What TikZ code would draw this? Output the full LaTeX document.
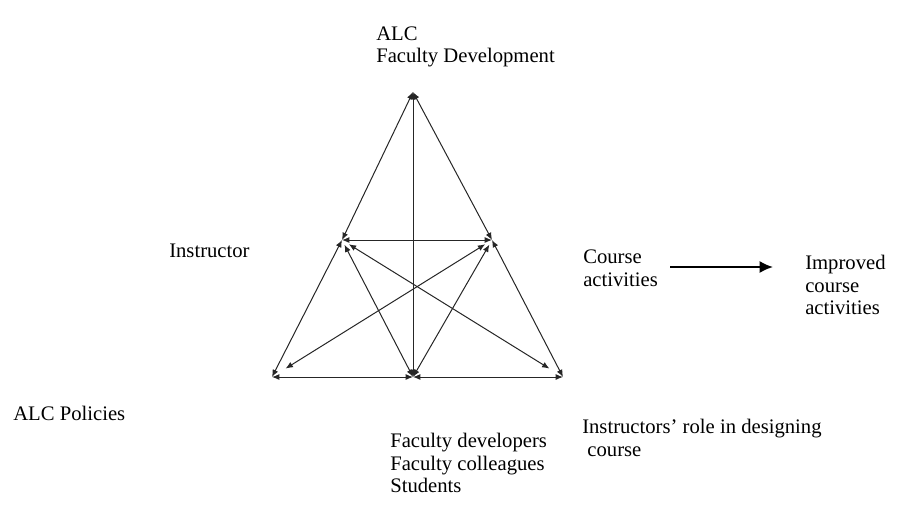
\documentclass[tikz,border=0pt]{standalone}
\usepackage{fontspec}
\setmainfont{Liberation Serif}
\usetikzlibrary{arrows,arrows.meta,calc,positioning}
\tikzstyle{lbl}=[anchor=west,align=left,inner sep=0pt,font=\fontsize{15.5}{16.9}\selectfont]
\tikzstyle{link}=[<->,line width=0.75pt,black!85]

\begin{document}
\begin{tikzpicture}[
      >={Latex[length=5.5pt,width=4.5pt]},
      x=0.75pt,y=-0.75pt
    ]
      \useasboundingbox (0,0) rectangle (898,508);

      % corners and mid points of the triangle
      \coordinate (top) at (413,92);
      \coordinate (ml)  at (342,240);
      \coordinate (mr)  at (492,240);
      \coordinate (bl)  at (272,377);
      \coordinate (bm)  at (413,377);
      \coordinate (br)  at (563,377);

      \node [lbl] (alc)    at (376,47)  {ALC\\Faculty Development};
      \node [lbl] (instr)  at (169,251) {Instructor};
      \node [lbl] (course) at (583,268) {Course\\activities};
      \node [lbl] (impr)   at (805,285) {Improved\\course\\activities};
      \node [lbl] (pol)    at (13,413)  {ALC Policies};
      \node [lbl] (comm)   at (390,463) {Faculty developers\\Faculty colleagues\\Students};
      \node [lbl] (role)   at (582,438) {Instructors’ role in designing\\\hspace{0.25em}course};

      \draw[link] (top) -- (ml);
      \draw[link] (top) -- (mr);
      \draw[link] (top) -- (bm);
      \draw[link] (ml) -- (mr);
      \draw[link] (ml) -- (bl);
      \draw[link] (mr) -- (br);
      \draw[link] (bl) -- (bm);
      \draw[link] (bm) -- (br);
      \draw[link,shorten <=4pt] (ml) -- (bm);
      \draw[link,shorten <=4pt] (mr) -- (bm);
      \draw[link,shorten <=6pt,shorten >=12pt] (ml) -- (br);
      \draw[link,shorten <=6pt,shorten >=12pt] (mr) -- (bl);

      \coordinate (a1) at (670,267);
      \coordinate (a2) at (773,267);
      \draw[-{Latex[length=10pt,width=9pt]},line width=1.4pt] (a1) -- (a2);
\end{tikzpicture}
\end{document}
